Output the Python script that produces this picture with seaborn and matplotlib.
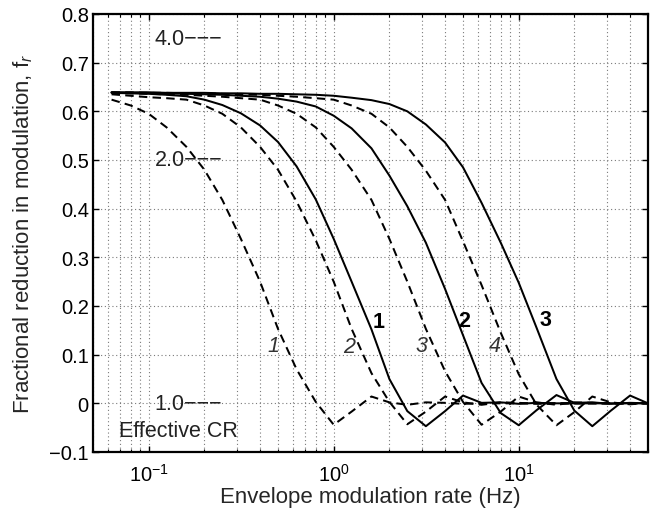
import matplotlib
matplotlib.use("Agg")
import matplotlib.pyplot as plt
import numpy as np
import pandas as pd
import seaborn as sns
from matplotlib.ticker import LogLocator, FixedLocator, FuncFormatter, NullFormatter

# ---------------- data ----------------
freqs = [0.063, 0.08, 0.1, 0.125, 0.16, 0.2, 0.25, 0.315, 0.4, 0.5,
         0.63, 0.8, 1.0, 1.25, 1.6, 2.0, 2.5, 3.15, 4.0, 5.0,
         6.3, 8.0, 10.0, 12.5, 16.0, 20.0, 25.0, 31.5, 40.0, 50.0]

solid1 = [0.638, 0.637, 0.636, 0.634, 0.631, 0.624, 0.613, 0.596, 0.571, 0.537,
          0.487, 0.419, 0.338, 0.250, 0.152, 0.050, -0.016, -0.047, -0.016, 0.016,
          0.001, 0.002, -0.001, 0.001, 0.0, 0.0, 0.0, 0.0, 0.0, 0.0]
solid2 = [0.639, 0.638, 0.638, 0.637, 0.636, 0.635, 0.634, 0.632, 0.630, 0.626,
          0.620, 0.610, 0.591, 0.565, 0.524, 0.468, 0.405, 0.330, 0.235, 0.140,
          0.042, -0.020, -0.045, -0.014, 0.017, 0.001, 0.002, -0.001, 0.001, 0.0]
solid3 = [0.639, 0.639, 0.639, 0.638, 0.638, 0.638, 0.637, 0.637, 0.636, 0.636,
          0.635, 0.634, 0.632, 0.628, 0.623, 0.615, 0.600, 0.573, 0.536, 0.485,
          0.412, 0.330, 0.248, 0.155, 0.050, -0.015, -0.047, -0.015, 0.016, 0.000]

dashed1 = [0.624, 0.612, 0.595, 0.567, 0.527, 0.480, 0.418, 0.338, 0.250, 0.153,
           0.070, 0.003, -0.044, -0.017, 0.014, 0.002, -0.003, 0.002, 0.001, -0.001,
           0.0, 0.0, 0.0, 0.0, 0.0, 0.0, 0.0, 0.0, 0.0, 0.0]
dashed2 = [0.635, 0.632, 0.629, 0.627, 0.624, 0.612, 0.595, 0.567, 0.527, 0.480,
           0.415, 0.335, 0.250, 0.153, 0.062, 0.003, -0.043, -0.017, 0.014, 0.002,
           -0.003, 0.002, 0.001, -0.001, 0.0, 0.0, 0.0, 0.0, 0.0, 0.0]
dashed3 = [0.638, 0.637, 0.636, 0.635, 0.634, 0.632, 0.630, 0.627, 0.624, 0.612,
           0.595, 0.567, 0.527, 0.480, 0.418, 0.338, 0.250, 0.153, 0.066, 0.003,
           -0.044, -0.017, 0.014, 0.002, -0.003, 0.002, 0.001, 0.0, 0.0, 0.0]
dashed4 = [0.639, 0.639, 0.638, 0.638, 0.637, 0.637, 0.636, 0.635, 0.634, 0.632,
           0.630, 0.627, 0.624, 0.612, 0.595, 0.567, 0.527, 0.478, 0.418, 0.333,
           0.243, 0.145, 0.060, -0.003, -0.045, -0.018, 0.014, 0.002, -0.002, 0.001]

solid_labels = ["1", "2", "3"]
solid_label_pos = [(1.75, 0.168), (5.05, 0.170), (14.0, 0.172)]
dashed_labels = ["1", "2", "3", "4"]
dashed_label_pos = [(0.474, 0.119), (1.205, 0.117), (2.99, 0.119), (7.42, 0.119)]

cr_labels = ["4.0\u2212\u2212\u2212", "2.0\u2212\u2212\u2212", "1.0\u2212\u2212\u2212"]
cr_levels = [0.75, 0.5, 0.0]

y_ticks = [-0.1, 0.0, 0.1, 0.2, 0.3, 0.4, 0.5, 0.6, 0.7, 0.8]

# ---------------- long-form table ----------------
series = [("s1", "solid", solid1), ("s2", "solid", solid2), ("s3", "solid", solid3),
          ("d1", "dashed", dashed1), ("d2", "dashed", dashed2),
          ("d3", "dashed", dashed3), ("d4", "dashed", dashed4)]
frames = []
for name, kind, vals in series:
    frames.append(pd.DataFrame({"freq": freqs, "fr": vals, "curve": name, "kind": kind}))
df = pd.concat(frames, ignore_index=True)

# ---------------- plot ----------------
sns.set_style("ticks")
plt.rcParams['font.family'] = ['Liberation Sans', 'DejaVu Sans']
plt.rcParams['mathtext.fontset'] = 'custom'
plt.rcParams['mathtext.rm'] = 'Liberation Sans'
plt.rcParams['mathtext.it'] = 'Liberation Sans:italic'

fig = plt.figure(figsize=(6.55, 5.10), dpi=100)
ax = fig.add_axes([93 / 655, 1 - 453 / 510, 555 / 655, 438 / 510])

sns.lineplot(data=df, x="freq", y="fr", units="curve", estimator=None,
             style="kind", dashes={"solid": "", "dashed": (4.2, 2.6)},
             color="black", linewidth=1.45, legend=False, ax=ax)

ax.set_xscale("log")
ax.set_xlim(0.05, 50)
ax.set_ylim(-0.1, 0.8)

ax.xaxis.set_major_locator(LogLocator(base=10, numticks=10))
ax.xaxis.set_minor_locator(LogLocator(base=10, subs=np.arange(2, 10), numticks=20))
ax.xaxis.set_minor_formatter(NullFormatter())
ax.yaxis.set_major_locator(FixedLocator(y_ticks))


def yfmt(v, pos):
    if abs(v) < 1e-9:
        return "0"
    s = "%.1f" % abs(v)
    return ("\u2212" + s) if v < 0 else s


ax.yaxis.set_major_formatter(FuncFormatter(yfmt))

grid_kw = dict(color="#7a7a7a", linewidth=0.8, linestyle=(0, (1, 2.4)))
ax.grid(True, which="major", axis="both", **grid_kw)
ax.grid(True, which="minor", axis="x", **grid_kw)
ax.set_axisbelow(True)

ax.tick_params(which="both", direction="in", top=True, right=True, colors="black")
ax.tick_params(which="major", length=4, width=1.0, labelsize=14.5)
ax.tick_params(which="minor", length=2, width=0.8)
ax.tick_params(axis="y", pad=3)
ax.tick_params(axis="x", pad=8)
for sp in ax.spines.values():
    sp.set_linewidth(1.6)
    sp.set_color("black")

ax.set_xlabel("Envelope modulation rate (Hz)", fontsize=16, labelpad=1)
ax.set_ylabel("Fractional reduction in modulation, f$_r$", fontsize=16, labelpad=10)

# curve labels
for lab, (x, y) in zip(solid_labels, solid_label_pos):
    ax.text(x, y, lab, fontsize=15.5, fontweight="bold", ha="center", va="center",
            color="black")
for lab, (x, y) in zip(dashed_labels, dashed_label_pos):
    ax.text(x, y, lab, fontsize=15.5, fontstyle="italic", ha="center", va="center",
            color="#333333")

# effective CR markers
for lab, lvl in zip(cr_labels, cr_levels):
    ax.text(0.1076, lvl, lab, fontsize=15.5, ha="left", va="center", color="#222222")
ax.text(0.0689, -0.055, "Effective CR", fontsize=15.5, ha="left", va="center",
        color="#222222")

fig.savefig("out.png", dpi=100)
